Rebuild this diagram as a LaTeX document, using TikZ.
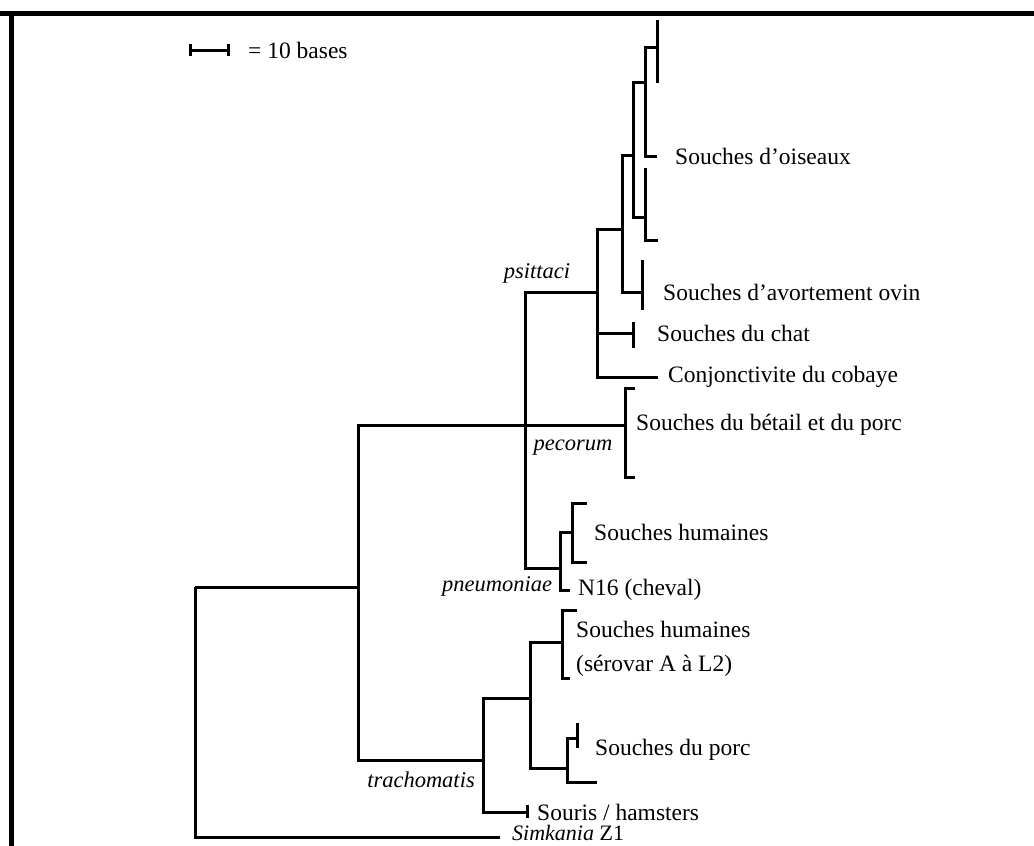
\documentclass[tikz,border=0pt]{standalone}
\usepackage{fontspec}
\setmainfont{Liberation Serif}
\usetikzlibrary{positioning}

\begin{document}
\begin{tikzpicture}[x=1pt,y=-1pt,
  branch/.style={line width=3pt},
  frame/.style={line width=5pt},
  leaf/.style={anchor=west,inner sep=0pt,font=\fontsize{23.5}{28}\selectfont},
  clade/.style={inner sep=0pt,font=\fontsize{22.5}{27}\selectfont\itshape}]
  \useasboundingbox (0,0) rectangle (1034,846);
  \draw[frame] (0,13) -- (1034,13);
  \draw[frame] (11.5,10.5) -- (11.5,846);

  % scale bar
  \coordinate (sbL) at (190,50);
  \coordinate (sbR) at (228,50);
  \draw[branch] (sbL) -- (sbR);
  \draw[branch] (sbL) ++(0,-6) -- ++(0,12);
  \draw[branch] (sbR) ++(0,-6) -- ++(0,12);
  \node[leaf,right=20pt of sbR] (scale) {= 10 bases};

  % internal nodes
  \coordinate (root) at (195,587);
  \coordinate (chl) at (358,587);
  \coordinate (psp) at (525,425);
  \coordinate (psi) at (597,292);
  \coordinate (psiA) at (622,229);
  \coordinate (psiB) at (633,155);
  \coordinate (bird1) at (645,82);
  \coordinate (bird2) at (645,217);
  \coordinate (pne) at (560,568);
  \coordinate (tra) at (483,760);
  \coordinate (traA) at (530,698);
  \coordinate (traB) at (567,768);
  % tips
  \coordinate (tBirdTop) at (657,47);
  \coordinate (tBird) at (657,156);
  \coordinate (tBirdUp) at (645,168);
  \coordinate (tBirdLow) at (658,240);
  \coordinate (tOvin) at (642,292);
  \coordinate (tCat) at (633,333);
  \coordinate (tCob) at (658,377);
  \coordinate (tPec) at (625,425);
  \coordinate (tHum) at (572,532);
  \coordinate (tN16) at (570,590);
  \coordinate (tHumT) at (562,642);
  \coordinate (tPig) at (577,738);
  \coordinate (tPigLow) at (597,782);
  \coordinate (tMouse) at (527,812);
  \coordinate (tSim) at (500,837);

  % branches
  \draw[branch] (root) |- (chl) (root) |- (tSim);
  \draw[branch] (chl) |- (psp) (chl) |- (tra);
  \draw[branch] (psp) |- (psi) (psp) -- (tPec) (psp) |- (pne);
  \draw[branch] (psi) |- (psiA) (psi) |- (tCat) (psi) |- (tCob);
  \draw[branch] (psiA) |- (psiB) (psiA) |- (tOvin);
  \draw[branch] (psiB) |- (bird1) (psiB) |- (bird2);
  \draw[branch] (bird1) |- (tBirdTop) (bird1) |- (tBird);
  \draw[branch] (bird2) |- (tBirdUp) (bird2) |- (tBirdLow);
  \draw[branch] (pne) |- (tHum) (pne) |- (tN16);
  \draw[branch] (tra) |- (traA) (tra) |- (tMouse);
  \draw[branch] (traA) |- (tHumT) (traA) |- (traB);
  \draw[branch] (traB) |- (tPig) (traB) |- (tPigLow);

  % strain bars
  \draw[branch] (tBirdTop) ++(0,-27) -- ++(0,63);
  \draw[branch] (tOvin) ++(0,-32) -- ++(0,50);
  \draw[branch] (tCat) ++(0,-11) -- ++(0,26);
  \draw[branch] (tMouse) ++(0,-7) -- ++(0,13);
  \draw[branch] (tPig) ++(0,-15) -- ++(0,25);
  \draw[branch] (tPec) ++(10,-37) -- ++(-10,0) -- ++(0,89) -- ++(10,0);
  \draw[branch] (tHum) ++(15,-29) -- ++(-15,0) -- ++(0,59) -- ++(15,0);
  \draw[branch] (tHumT) ++(15,-32) -- ++(-15,0) -- ++(0,68) -- ++(8,0);

  % leaves
  \node[leaf,right=18pt of tBird] (lBird) {Souches d'oiseaux};
  \node[leaf,right=21pt of tOvin] (lOvin) {Souches d'avortement ovin};
  \node[leaf,right=24pt of tCat] (lCat) {Souches du chat};
  \node[leaf,right=10pt of tCob] (lCob) {Conjonctivite du cobaye};
  \node[leaf,right=11pt of tPec] (lPec) {Souches du bétail et du porc};
  \node[leaf,right=22pt of tHum] (lHum) {Souches humaines};
  \node[leaf,right=8pt of tN16] (lN16) {N16 (cheval)};
  \node[leaf,align=left,font=\fontsize{23.5}{34}\selectfont,right=14pt of tHumT,yshift=-7pt] (lHumT) {Souches humaines\\(sérovar A à L2)};
  \node[leaf,right=18pt of tPig,yshift=-12pt] (lPig) {Souches du porc};
  \node[leaf,right=10pt of tMouse] (lMouse) {Souris / hamsters};
  \node[leaf,font=\fontsize{22}{26}\selectfont,right=12pt of tSim,yshift=4pt] (lSim) {\textit{Simkania} Z1};

  % clades
  \node[clade] (cPsi) at (537,273) {psittaci};
  \node[clade] (cPec) at (573,448) {pecorum};
  \node[clade] (cPne) at (497,586) {pneumoniae};
  \node[clade] (cTra) at (421,780) {trachomatis};
\end{tikzpicture}
\end{document}
